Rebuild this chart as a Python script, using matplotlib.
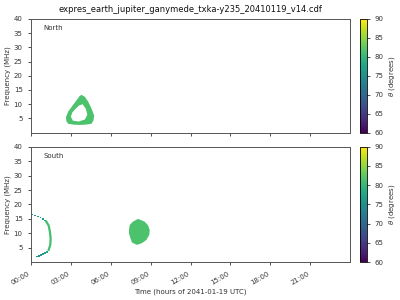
import matplotlib
matplotlib.use('Agg')
import matplotlib.pyplot as plt
from matplotlib import cm, colors
from matplotlib.ticker import FixedLocator, FuncFormatter

title = 'expres_earth_jupiter_ganymede_txka-y235_20410119_v14.cdf'
xlabel = 'Time (hours of 2041-01-19 UTC)'

# north source: ring (outer / inner outline), hours and MHz
north_outer_t = [3.80, 4.05, 4.30, 4.55, 4.75, 4.70, 4.55, 4.10, 3.68, 3.20, 2.80, 2.66, 2.63, 2.80, 3.08, 3.40, 3.65]
north_outer_f = [13.3, 12.6, 10.9, 8.5, 6.0, 4.3, 3.1, 2.8, 2.7, 2.8, 3.1, 4.0, 5.4, 7.4, 9.2, 11.2, 12.8]
north_inner_t = [3.88, 4.12, 4.24, 4.05, 3.60, 3.15, 3.00, 3.10, 3.30, 3.60]
north_inner_f = [10.0, 8.4, 6.3, 4.6, 3.9, 4.2, 5.6, 7.0, 8.1, 9.5]
north_theta = 81.5

# south source: blob near 08:00
south_blob_t = [7.67, 8.05, 8.55, 8.80, 8.93, 8.90, 8.68, 8.35, 7.97, 7.60, 7.48, 7.37, 7.38, 7.43]
south_blob_f = [14.05, 15.0, 14.05, 12.8, 11.2, 9.5, 7.7, 6.6, 6.0, 6.8, 8.3, 10.0, 11.5, 12.9]
south_blob_theta = 81.5

# south source: arc at the start of the day
arc_t = [0.07, 0.30, 0.52, 0.72, 0.90, 1.05, 1.15, 1.33, 1.42, 1.48, 1.45, 1.33, 1.20, 1.07, 0.92, 0.77, 0.62, 0.47]
arc_f = [16.6, 16.2, 15.8, 15.4, 15.0, 14.5, 14.05, 12.7, 10.6, 8.3, 6.0, 4.3, 3.6, 3.1, 2.8, 2.5, 2.2, 1.9]
arc_theta = [75.5, 75.5, 76, 76.5, 77, 78, 79, 81, 81.5, 81.5, 81, 79, 78, 77, 76.5, 76, 75.5, 75.5]

hour_ticks = [0, 3, 6, 9, 12, 15, 18, 21]
freq_ticks = [5, 10, 15, 20, 25, 30, 35, 40]
theta_ticks = [60, 65, 70, 75, 80, 85, 90]

cmap = matplotlib.colormaps['viridis']
norm = colors.Normalize(vmin=60, vmax=90)

fs = 5
fig = plt.figure(figsize=(4, 3), dpi=100)
ax1 = fig.add_axes([0.0775, 0.558, 0.7975, 0.379])
ax2 = fig.add_axes([0.0775, 0.126, 0.7975, 0.385])
cax1 = fig.add_axes([0.9, 0.558, 0.0165, 0.379])
cax2 = fig.add_axes([0.9, 0.126, 0.0165, 0.385])

ax1.fill(north_outer_t, north_outer_f, color=cmap(norm(north_theta)), lw=0)
ax1.fill(north_inner_t, north_inner_f, color='white', lw=0)
ax2.fill(south_blob_t, south_blob_f, color=cmap(norm(south_blob_theta)), lw=0)
ax2.plot(arc_t[6:12], arc_f[6:12], color=cmap(norm(81)), lw=1.6)
ax2.scatter(arc_t, arc_f, c=arc_theta, cmap=cmap, norm=norm, marker='s', s=1.2, lw=0)

for ax, name in [(ax1, 'North'), (ax2, 'South')]:
    ax.set_xlim(0, 24)
    ax.set_ylim(0, 40)
    ax.xaxis.set_major_locator(FixedLocator(hour_ticks))
    ax.yaxis.set_major_locator(FixedLocator(freq_ticks))
    ax.tick_params(labelsize=fs, length=2.5, width=0.6, colors='#333333')
    for s in ax.spines.values():
        s.set_linewidth(0.7)
        s.set_color('#555555')
    ax.set_ylabel('Frequency (MHz)', fontsize=fs, color='#333333', labelpad=2)
    ax.text(0.04, 0.9, name, transform=ax.transAxes, fontsize=fs, color='#333333')

ax1.tick_params(labelbottom=False)
ax2.xaxis.set_major_formatter(FuncFormatter(lambda v, p: '%02d:00' % int(v)))
for lab in ax2.get_xticklabels():
    lab.set_rotation(30)
    lab.set_ha('right')
ax2.set_xlabel(xlabel, fontsize=fs, color='#333333', labelpad=2)
ax1.set_title(title, fontsize=6, color='#111111', pad=5)

sm = cm.ScalarMappable(norm=norm, cmap=cmap)
for cax in (cax1, cax2):
    cb = fig.colorbar(sm, cax=cax, ticks=theta_ticks)
    cb.set_label(r'$\theta$ (degrees)', fontsize=fs, color='#333333', labelpad=3)
    cb.ax.tick_params(labelsize=fs, length=2, width=0.6, colors='#333333')
    cb.outline.set_linewidth(0.6)

fig.savefig('out.png', dpi=100)
